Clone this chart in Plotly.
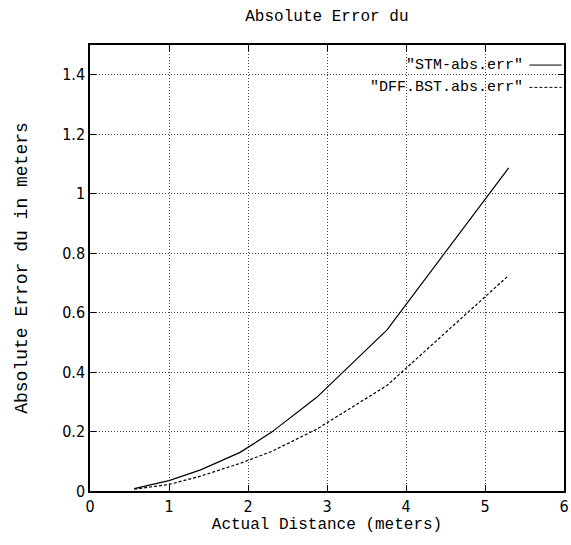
import plotly.graph_objects as go

# distances in meters and absolute error values
distance = [0.56, 1.0, 1.4, 1.9, 2.3, 2.5, 2.87, 3.76, 5.3]
stm_abs_err = [0.008, 0.035, 0.071, 0.13, 0.198, 0.239, 0.315, 0.542, 1.087]
dff_bst_abs_err = [0.006, 0.022, 0.050, 0.093, 0.133, 0.160, 0.208, 0.355, 0.725]

x_ticks = [0, 1, 2, 3, 4, 5, 6]
y_ticks = [0, 0.2, 0.4, 0.6, 0.8, 1, 1.2, 1.4]
y_labels = ['0', '0.2', '0.4', '0.6', '0.8', '1', '1.2', '1.4']
names = ['"STM-abs.err"', '"DFF.BST.abs.err"']

mono = 'Liberation Mono, Courier New, monospace'
narrow = 'Liberation Sans Narrow, DejaVu Sans Condensed, Arial Narrow, sans-serif'

fig = go.Figure()
fig.add_trace(go.Scatter(x=distance, y=stm_abs_err, mode='lines', name=names[0],
                         line=dict(color='black', width=1.2)))
fig.add_trace(go.Scatter(x=distance, y=dff_bst_abs_err, mode='lines', name=names[1],
                         line=dict(color='black', width=1.2, dash='3px,2px')))

# gnuplot-style key: text on the left, line sample on the right
for i, (name, dash) in enumerate(zip(names, ['solid', '3px,2px'])):
    ypos = 0.955 - i * 0.05
    fig.add_annotation(x=0.918, y=ypos, xref='paper', yref='paper', text=name,
                       showarrow=False, xanchor='right', yanchor='middle',
                       font=dict(family=mono, size=15, color='black'))
    fig.add_shape(type='line', xref='paper', yref='paper', x0=0.927, x1=0.995,
                  y0=ypos, y1=ypos, line=dict(color='black', width=1, dash=dash))

axis_common = dict(showline=True, linecolor='black', linewidth=1.5, mirror='ticks',
                   ticks='inside', ticklen=6, tickcolor='black', showgrid=True,
                   gridcolor='#444444', griddash='1px,2px', gridwidth=1, zeroline=False,
                   automargin=False,
                   tickfont=dict(family=narrow, size=16, color='black'))

fig.update_xaxes(range=[0, 6], tickvals=x_ticks, ticktext=[str(t) for t in x_ticks],
                 title=dict(text='Actual Distance (meters)', font=dict(family=mono, size=16, color='black'),
                            standoff=2), **axis_common)
fig.update_yaxes(range=[0, 1.5], tickvals=y_ticks, ticktext=y_labels,
                 title=dict(text='Absolute Error du in meters', font=dict(family=mono, size=18, color='black'),
                            standoff=30), **axis_common)

fig.update_layout(width=571, height=545, showlegend=False,
                  margin=dict(l=90, r=7, t=45, b=54, autoexpand=False),
                  paper_bgcolor='white', plot_bgcolor='white',
                  title=dict(text='Absolute Error du', x=0.5725, xanchor='center', y=0.972, yanchor='middle',
                             automargin=False, font=dict(family=mono, size=16, color='black')))

# drop the default page margin so the figure sits at the window corner
fig.write_html("out.html", config={'displayModeBar': False},
               post_script="document.body.style.margin='0';")
